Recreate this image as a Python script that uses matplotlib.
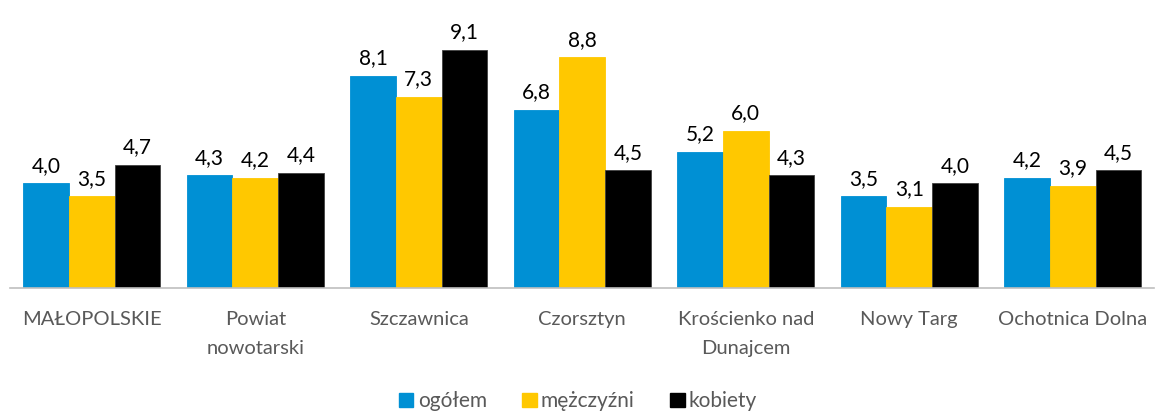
import matplotlib
matplotlib.use("Agg")
import matplotlib.pyplot as plt
from matplotlib.patches import Patch
import numpy as np

plt.rcParams['font.family'] = ['Lato', 'DejaVu Sans']

categories = ["MAŁOPOLSKIE", "Powiat\nnowotarski", "Szczawnica", "Czorsztyn",
              "Krościenko nad\nDunajcem", "Nowy Targ", "Ochotnica Dolna"]
ogolem = [4.0, 4.3, 8.1, 6.8, 5.2, 3.5, 4.2]
mezczyzni = [3.5, 4.2, 7.3, 8.8, 6.0, 3.1, 3.9]
kobiety = [4.7, 4.4, 9.1, 4.5, 4.3, 4.0, 4.5]
series_names = ["ogółem", "mężczyźni", "kobiety"]
colors = ["#0090D4", "#FFC800", "#000000"]

fig = plt.figure(figsize=(11.56, 4.13), dpi=100)
ax = fig.add_axes([0.0087, 0.303, 0.990, 0.634])

x = np.arange(len(categories))
w = 0.28
for i, (vals, c) in enumerate(zip([ogolem, mezczyzni, kobiety], colors)):
    pos = x + (i - 1) * w
    ax.bar(pos, vals, width=w, color=c, edgecolor=("#404040" if i == 2 else c), linewidth=0.6)
    for px, v in zip(pos, vals):
        ax.text(px, v + 0.28, f"{v:.1f}".replace(".", ","), ha="center", va="bottom",
                fontsize=15, color="black")

ax.set_xlim(-0.5, len(categories) - 0.5)
ax.set_ylim(0, 10)
ax.set_yticks([])
ax.set_xticks(x)
ax.set_xticklabels(categories, fontsize=14.5, color="#595959")
for t in ax.get_xticklabels():
    t.set_linespacing(1.85)
ax.tick_params(axis="x", length=0, pad=17)
for s in ["top", "right", "left"]:
    ax.spines[s].set_visible(False)
ax.spines["bottom"].set_color("#BFBFBF")
ax.spines["bottom"].set_linewidth(1.2)

handles = [Patch(facecolor=c, edgecolor=c) for c in colors]
fig.legend(handles, series_names, loc="center", bbox_to_anchor=(0.5, 0.028), ncol=3,
           frameon=False, fontsize=15, handlelength=0.7, handleheight=0.7,
           handletextpad=0.2, columnspacing=1.7, labelcolor="#595959")

fig.savefig("out.png", dpi=100)
